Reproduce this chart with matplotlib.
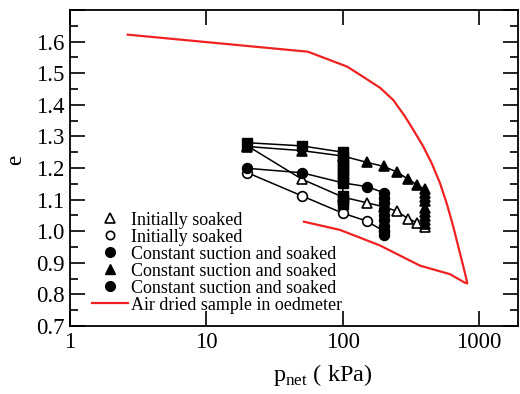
import numpy as np
import matplotlib
matplotlib.use('Agg')
import matplotlib.pyplot as plt
from matplotlib.lines import Line2D
from matplotlib.ticker import FixedLocator, NullLocator, MultipleLocator, FuncFormatter

plt.rcParams.update({
    'font.family': 'serif',
    'font.serif': ['Liberation Serif', 'DejaVu Serif'],
    'mathtext.fontset': 'custom',
    'mathtext.rm': 'Liberation Serif',
    'axes.linewidth': 1.3,
})

# oedometer curve for the air dried sample (loading, then unloading)
air_p = [2.65, 55.5, 107.4, 133.7, 187.4, 234.6, 285.8, 328.6, 389, 448.6, 516, 578, 646, 723, 787, 818,
         785, 611, 368, 187, 95.5, 51.9]
air_e = [1.622, 1.568, 1.521, 1.495, 1.454, 1.415, 1.363, 1.321, 1.268, 1.215, 1.152, 1.088, 1.014, 0.930, 0.867, 0.835,
         0.837, 0.864, 0.891, 0.955, 1.004, 1.030]

# initially soaked, open triangles
soak_tri_p = [20, 50, 100, 150, 200, 250, 300, 350, 400]
soak_tri_e = [1.270, 1.165, 1.108, 1.090, 1.077, 1.063, 1.040, 1.027, 1.013]

# initially soaked, open circles
soak_circ_p = [20, 50, 100, 150, 200]
soak_circ_e = [1.185, 1.112, 1.057, 1.032, 1.000]

# constant suction then soaked at 200 kPa, filled circles
cs200_p = [20, 50, 100, 150, 200, 200, 200, 200, 200, 200, 200, 200, 200]
cs200_e = [1.199, 1.185, 1.153, 1.141, 1.122, 1.105, 1.088, 1.070, 1.052, 1.035, 1.018, 1.002, 0.988]

# constant suction then soaked at 400 kPa, filled triangles
cs400_p = [20, 50, 100, 150, 200, 250, 300, 350, 400, 400, 400, 400, 400, 400, 400, 400, 400]
cs400_e = [1.268, 1.255, 1.238, 1.218, 1.205, 1.187, 1.165, 1.147, 1.132, 1.120, 1.107, 1.094,
           1.075, 1.062, 1.049, 1.036, 1.024]

# constant suction then soaked at 100 kPa, filled squares
cs100_p = [20, 50, 100, 100, 100, 100, 100, 100, 100, 100, 100, 100, 100]
cs100_e = [1.280, 1.270, 1.250, 1.236, 1.222, 1.208, 1.194, 1.180, 1.166, 1.152, 1.111, 1.099, 1.087]

labels = ['Initially soaked', 'Initially soaked', 'Constant suction and soaked',
          'Constant suction and soaked', 'Constant suction and soaked', 'Air dried sample in oedmeter']

W, H = 520, 394
fig = plt.figure(figsize=(W / 100, H / 100), dpi=100)
ax = fig.add_axes([70 / W, (H - 326) / H, 448 / W, 316 / H])

red = '#ee2222'
ax.plot(air_p, air_e, color=red, lw=1.6, zorder=2)

ms = 7
kw = dict(color='black', lw=1.1, markersize=ms, markeredgewidth=1.2, zorder=3)
ax.plot(soak_tri_p, soak_tri_e, marker='^', markerfacecolor='white', **kw)
ax.plot(soak_circ_p, soak_circ_e, marker='o', markerfacecolor='white', **kw)
ax.plot(cs200_p, cs200_e, marker='o', markerfacecolor='black', **kw)
ax.plot(cs400_p, cs400_e, marker='^', markerfacecolor='black', **kw)
ax.plot(cs100_p, cs100_e, marker='s', markerfacecolor='black', markersize=6.5,
        color='black', lw=1.1, zorder=4)

ax.set_xscale('log')
ax.set_xlim(1, 10 ** (448 / 136.4))
ax.set_ylim(0.7, 1.7)
ax.xaxis.set_major_locator(FixedLocator([1, 10, 100, 1000]))
ax.xaxis.set_minor_locator(NullLocator())
ax.set_xticklabels(['1', '10', '100', '1000'])
ax.yaxis.set_major_locator(MultipleLocator(0.1))
ax.yaxis.set_minor_locator(MultipleLocator(0.05))
# no label on the top tick
ax.yaxis.set_major_formatter(FuncFormatter(lambda v, pos: '' if v > 1.65 else f'{v:.1f}'))
ax.tick_params(which='both', direction='in', top=True, right=True, labelsize=16.5, width=1.2)
ax.tick_params(which='major', length=11, pad=4)
ax.tick_params(which='minor', length=5.5)

ax.set_xlabel(r'p$_{\mathregular{net}}$ ( kPa)', fontsize=17.5)
ax.xaxis.set_label_coords(0.564, -0.113)
ax.set_ylabel('e', fontsize=16.5)
ax.yaxis.set_label_coords(-0.098, 0.525)

handles = [
    Line2D([], [], ls='none', marker='^', color='black', markerfacecolor='white', markersize=6.5, markeredgewidth=1.2),
    Line2D([], [], ls='none', marker='o', color='black', markerfacecolor='white', markersize=6, markeredgewidth=1.2),
    Line2D([], [], ls='none', marker='o', color='black', markersize=7),
    Line2D([], [], ls='none', marker='^', color='black', markersize=7),
    Line2D([], [], ls='none', marker='o', color='black', markersize=7),
    Line2D([], [], color=red, lw=1.6),
]
ax.legend(handles, labels, loc='upper left', bbox_to_anchor=(0.049, 0.362), frameon=False,
          fontsize=13, handlelength=2.0, handletextpad=0.15, labelspacing=0.0, borderpad=0, borderaxespad=0)

fig.savefig('out.png', dpi=100)
